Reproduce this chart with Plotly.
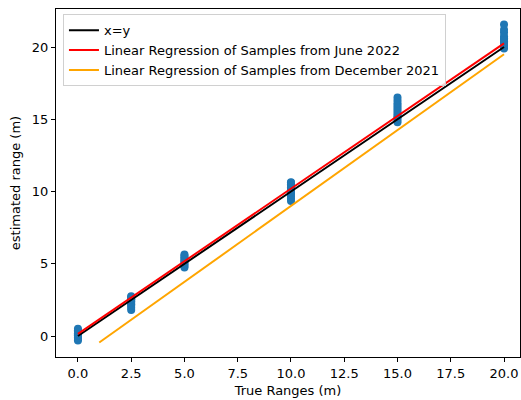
import plotly.graph_objects as go

# Measured samples: true range (m) -> estimated ranges (m)
true_ranges = [0.0, 2.5, 5.0, 10.0, 15.0, 20.0]
estimates = [
    [-0.3, -0.2, -0.1, 0.0, 0.05, 0.1, 0.15, 0.2, 0.3, 0.4, 0.5],
    [1.8, 1.95, 2.1, 2.2, 2.3, 2.4, 2.5, 2.55, 2.6, 2.7, 2.75],
    [4.75, 4.85, 4.95, 5.05, 5.15, 5.25, 5.35, 5.45, 5.55, 5.65],
    [9.35, 9.5, 9.65, 9.8, 9.9, 10.0, 10.1, 10.2, 10.3, 10.4, 10.5, 10.6, 10.65],
    [14.8, 14.95, 15.1, 15.2, 15.35, 15.5, 15.65, 15.8, 15.95, 16.1, 16.3, 16.5],
    [19.9, 20.0, 20.1, 20.2, 20.3, 20.4, 20.5, 20.6, 20.75, 21.0, 21.2, 21.55],
]

# Identity line span
identity_x = [0.0, 20.0]

# Regression fits (slope, intercept) and the x span each covers
june_2022_fit = (1.005, 0.15)
june_2022_x = [0.0, 20.0]
dec_2021_fit = (1.05, -1.5)
dec_2021_x = [1.0, 20.0]

xs, ys = [], []
for r, vals in zip(true_ranges, estimates):
    xs += [r] * len(vals)
    ys += vals

fig = go.Figure()
fig.add_trace(go.Scatter(x=xs, y=ys, mode="markers", showlegend=False,
                         marker=dict(color="#1f77b4", size=8, line=dict(width=0))))
fig.add_trace(go.Scatter(x=identity_x, y=identity_x, mode="lines", name="x=y",
                         line=dict(color="black", width=2)))
fig.add_trace(go.Scatter(x=june_2022_x,
                         y=[june_2022_fit[0] * x + june_2022_fit[1] for x in june_2022_x],
                         mode="lines", name="Linear Regression of Samples from June 2022",
                         line=dict(color="red", width=2)))
fig.add_trace(go.Scatter(x=dec_2021_x,
                         y=[dec_2021_fit[0] * x + dec_2021_fit[1] for x in dec_2021_x],
                         mode="lines", name="Linear Regression of Samples from December 2021",
                         line=dict(color="orange", width=2)))

axis_style = dict(showline=True, linecolor="black", linewidth=1, mirror=True,
                  ticks="outside", ticklen=4, tickwidth=1, tickcolor="black",
                  showgrid=False, zeroline=False,
                  tickfont=dict(family="DejaVu Sans", size=13, color="black"))

fig.update_layout(
    width=521, height=400,
    margin=dict(l=56, r=1, t=9, b=43),
    paper_bgcolor="white", plot_bgcolor="white",
    font=dict(family="DejaVu Sans", size=13, color="black"),
    xaxis=dict(range=[-1.03, 20.75], tickmode="array",
               tickvals=[0, 2.5, 5, 7.5, 10, 12.5, 15, 17.5, 20],
               ticktext=["0.0", "2.5", "5.0", "7.5", "10.0", "12.5", "15.0", "17.5", "20.0"],
               title=dict(text="True Ranges (m)", standoff=6,
                          font=dict(family="DejaVu Sans", size=13)),
               **axis_style),
    yaxis=dict(range=[-1.45, 22.63], tickvals=[0, 5, 10, 15, 20],
               title=dict(text="estimated range (m)", standoff=8,
                          font=dict(family="DejaVu Sans", size=13)),
               **axis_style),
    legend=dict(x=0.015, y=0.985, xanchor="left", yanchor="top",
                bgcolor="rgba(255,255,255,0.8)", bordercolor="#d0d0d0", borderwidth=1,
                font=dict(family="DejaVu Sans", size=13, color="black"),
                itemwidth=30, tracegroupgap=0),
)

fig.write_html("out.html")
